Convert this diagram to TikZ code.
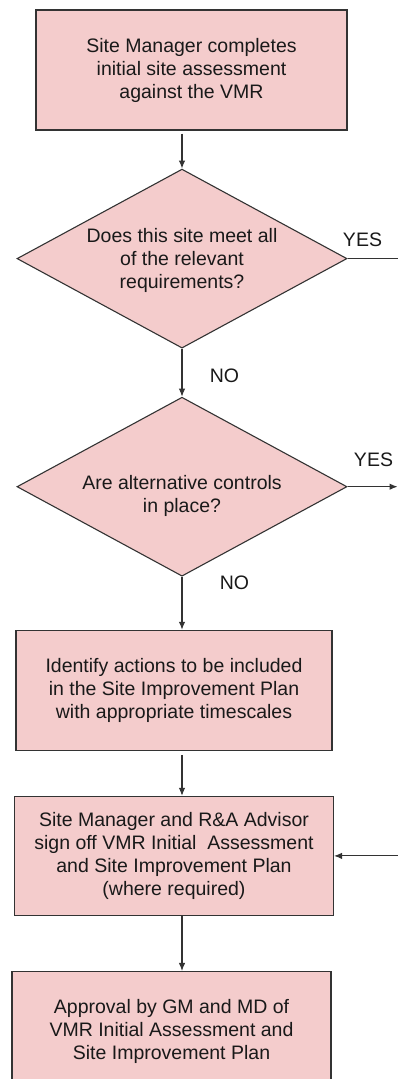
\documentclass[tikz,border=0pt]{standalone}
\usepackage{fontspec}
\setmainfont{Liberation Sans}
\usepackage{tikz}
\usetikzlibrary{arrows.meta,positioning,shapes.geometric}
\definecolor{rosefill}{RGB}{244,204,204}
\definecolor{edgegray}{RGB}{51,51,51}

\begin{document}
\begin{tikzpicture}[
  x=1pt,y=-1pt,
  every node/.style={font=\fontsize{19.5}{23}\selectfont,text=black!90},
  box/.style={draw=edgegray,line width=1.1pt,fill=rosefill,align=center,inner sep=0pt,minimum width=319pt,minimum height=120pt},
  decision/.style={diamond,draw=edgegray,line width=1.1pt,fill=rosefill,inner sep=0pt,aspect=1.84,minimum width=330pt,minimum height=179pt},
  arr/.style={-{Latex[length=8pt,width=6.5pt]},line width=1.1pt,edgegray},
  lbl/.style={inner sep=0pt}
]
\useasboundingbox (0,0) rectangle (397,1079);
\node[box,minimum width=311pt] (assess) at (191.5,70) {Site Manager completes\\initial site assessment\\against the VMR};
\node[decision,below=38pt of assess,xshift=-9.5pt,
  label={[lbl,align=center,yshift=-2pt]center:{Does this site meet all\\of the relevant\\requirements?}}] (meets) {};
\node[decision,below=48pt of meets,
  label={[lbl,align=center,yshift=-9pt]center:{Are alternative controls\\in place?}}] (altctl) {};
\node[box,minimum width=316pt,below=53pt of altctl,xshift=-8pt] (actions) {Identify actions to be included\\in the Site Improvement Plan\\with appropriate timescales};
\node[box,minimum height=119pt,below=45pt of actions] (signoff) {Site Manager and R\&A Advisor\\sign off VMR Initial\ \ Assessment\\and Site Improvement Plan\\(where required)};
\node[box,below=55pt of signoff,xshift=-2.5pt] (approve) {Approval by GM and MD of\\VMR Initial Assessment and\\Site Improvement Plan};
\coordinate[right=50pt of meets.east] (yesone);
\coordinate[right=50pt of altctl.east] (yestwo);
\coordinate[right=63.5pt of signoff.east] (rejoin);
\node[lbl] (yesa) at (362.5,239.5) {YES};
\node[lbl] (yesb) at (373.5,459.5) {YES};
\node[lbl] (noa) at (224.5,375.5) {NO};
\node[lbl] (nob) at (234.5,582.5) {NO};
\draw[arr,shorten <=3pt] (assess.south -| meets.north) -- (meets.north);
\draw[arr] (meets.south) -- (altctl.north);
\draw[arr] (altctl.south) -- (altctl.south |- actions.north);
\draw[arr,shorten <=4pt] (actions.south -| altctl.south) -- (signoff.north -| altctl.south);
\draw[arr] (signoff.south -| altctl.south) -- (approve.north -| altctl.south);
\draw[line width=1.1pt,edgegray] (meets.east) -- (yesone);
\draw[arr] (altctl.east) -- (yestwo);
\draw[arr] (rejoin) -- (signoff.east);
\end{tikzpicture}
\end{document}
